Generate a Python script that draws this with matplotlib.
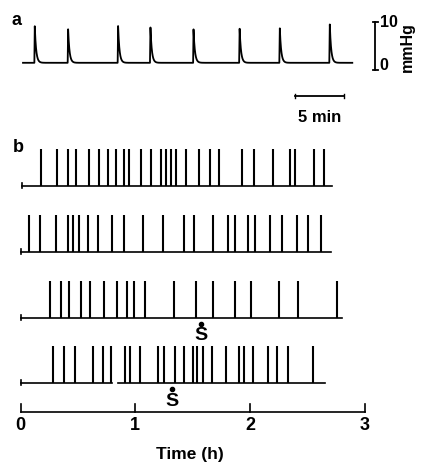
import numpy as np
import matplotlib
matplotlib.use('Agg')
from matplotlib import pyplot as plt

plt.rcParams['font.family'] = ['Liberation Sans', 'DejaVu Sans']
plt.rcParams['font.weight'] = 'bold'

# panel a: pressure trace, time in min, pressure in mmHg
a_spike_min = [1.2, 4.6, 9.7, 13.0, 17.4, 22.1, 26.2, 31.3]
a_spike_mmhg = [9.2, 8.7, 9.4, 9.2, 8.5, 8.9, 9.0, 9.85]
a_base_mmhg = 1.5
a_end_min = 33.6

# panel b: spike times (h) for the four records
row1 = [0.183, 0.318, 0.414, 0.484, 0.599, 0.682, 0.765, 0.835, 0.900, 0.948,
        1.052, 1.138, 1.227, 1.270, 1.315, 1.357, 1.439, 1.558, 1.652, 1.733,
        1.934, 2.033, 2.199, 2.350, 2.391, 2.561, 2.646]
row2 = [0.076, 0.174, 0.308, 0.410, 0.460, 0.507, 0.591, 0.678, 0.795, 0.900,
        1.064, 1.240, 1.425, 1.513, 1.678, 1.809, 1.874, 1.981, 2.045, 2.178,
        2.280, 2.411, 2.509, 2.618]
row3 = [0.255, 0.353, 0.425, 0.526, 0.609, 0.728, 0.839, 0.926, 0.987, 1.088,
        1.338, 1.533, 1.674, 1.873, 2.007, 2.254, 2.419, 2.757]
row4 = [0.286, 0.382, 0.475, 0.635, 0.715, 0.789, 0.911, 0.959, 1.042, 1.203,
        1.255, 1.343, 1.428, 1.500, 1.539, 1.587, 1.667, 1.789, 1.905, 1.951,
        2.030, 2.155, 2.239, 2.335, 2.553]
rows = [row1, row2, row3, row4]
# baseline segments (h) of each record
row_segments = [[(0.01, 2.72)], [(0.0, 2.71)], [(0.0, 2.80)],
                [(0.0, 0.80), (0.853, 2.655)]]
stim_h = [None, None, 1.575, 1.324]
time_ticks = [0, 1, 2, 3]

fig = plt.figure(figsize=(4.24, 4.69), dpi=100)

# ---- panel a ----
ax_a = fig.add_axes([0, 0, 1, 1])
ax_a.set_xlim(-23 / 9.8, (424 - 23) / 9.8)
ax_a.set_ylim(-(469 - 70) / 4.8, 70 / 4.8)
ax_a.axis('off')

t = np.linspace(0, a_end_min, 4000)
p = np.full_like(t, a_base_mmhg)
for ts, pk in zip(a_spike_min, a_spike_mmhg):
    rise = (t >= ts - 0.04) & (t < ts)
    p[rise] += (pk - a_base_mmhg) * (t[rise] - ts + 0.04) / 0.04
    dec = t >= ts
    p[dec] += (pk - a_base_mmhg) * np.exp(-(t[dec] - ts) / 0.14)
ax_a.plot(t, p, color='k', lw=1.3)

# time scale bar, 5 min
sb_x0 = 27.8
ax_a.plot([sb_x0, sb_x0 + 5], [-5.5, -5.5], color='k', lw=1.3)
ax_a.plot([sb_x0, sb_x0], [-5.9, -5.1], color='k', lw=1.0)
ax_a.plot([sb_x0 + 5, sb_x0 + 5], [-5.9, -5.1], color='k', lw=1.0)
ax_a.text(sb_x0 + 2.5, -10.0, '5 min', ha='center', va='center', fontsize=12)

# pressure scale bar, 0-10 mmHg
pb_x = 35.9
ax_a.plot([pb_x, pb_x], [0, 10], color='k', lw=1.3)
ax_a.plot([pb_x - 0.2, pb_x + 0.3], [10, 10], color='k', lw=1.3)
ax_a.plot([pb_x - 0.2, pb_x + 0.3], [0, 0], color='k', lw=1.3)
ax_a.text(pb_x + 0.5, 9.9, '10', ha='left', va='center', fontsize=11.5)
ax_a.text(pb_x + 0.5, 1.0, '0', ha='left', va='center', fontsize=11.5)
ax_a.text(pb_x + 3.3, 4.7, 'mmHg', ha='center', va='center', rotation=90,
          fontsize=11.5)

ax_a.text(-0.7, 10.3, 'a', ha='center', va='center', fontsize=13)

# ---- panel b ----
ax_b = fig.add_axes([0, 0, 1, 1])
ax_b.set_xlim(-20.5 / 114.7, (424 - 20.5) / 114.7)
ax_b.set_ylim(469, 0)
ax_b.axis('off')

base_y = [186, 252, 318, 383]
spike_h = 37
for spikes, segs, y0, st in zip(rows, row_segments, base_y, stim_h):
    ax_b.vlines(spikes, y0, y0 - spike_h, color='k', lw=1.5)
    for s0, s1 in segs:
        ax_b.plot([s0, s1], [y0, y0], color='k', lw=1.2)
    ax_b.plot([segs[0][0], segs[0][0]], [y0 - 2.5, y0 + 2.5], color='k', lw=1.2)
    if st is not None:
        ax_b.plot(st, y0 + 6, 'o', color='k', ms=3)
        ax_b.text(st, y0 + 18, 'S', ha='center', va='center', fontsize=14)

# time axis
axis_y = 412
ax_b.plot([time_ticks[0], time_ticks[-1]], [axis_y, axis_y], color='k', lw=1.2)
for tk in time_ticks:
    ax_b.plot([tk, tk], [axis_y, axis_y - 8], color='k', lw=1.2)
    ax_b.text(tk, axis_y + 13, str(tk), ha='center', va='center', fontsize=13)
ax_b.text(1.48, 455, 'Time (h)', ha='center', va='center', fontsize=12.5)

ax_b.text(-0.02, 148, 'b', ha='center', va='center', fontsize=13)

fig.savefig('out.png', dpi=100)
